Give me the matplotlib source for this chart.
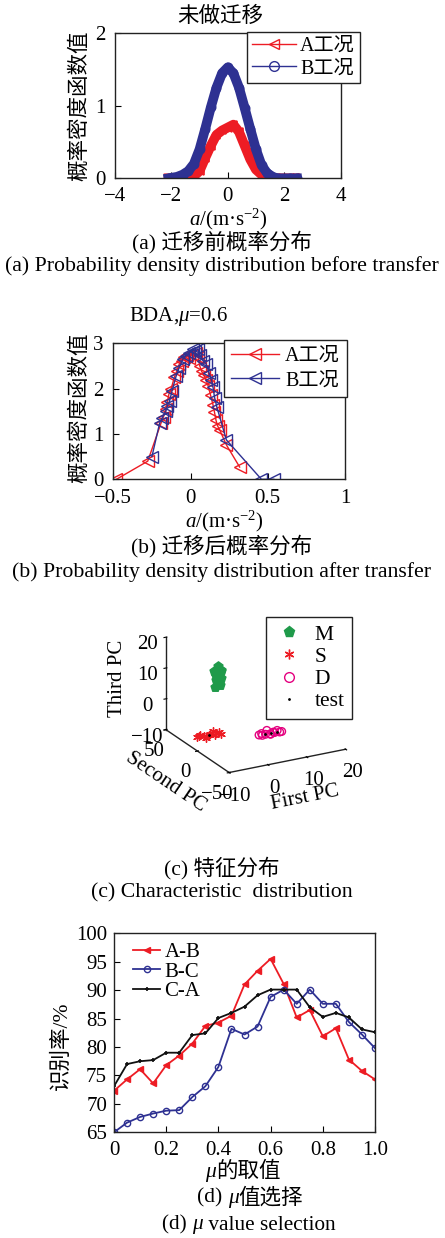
import numpy as np
import matplotlib
matplotlib.use('Agg')
import matplotlib.pyplot as plt
from matplotlib.lines import Line2D

plt.rcParams['font.family'] = ['Liberation Serif', 'Noto Sans CJK SC']
plt.rcParams['mathtext.fontset'] = 'custom'
plt.rcParams['mathtext.rm'] = 'Liberation Serif'
plt.rcParams['mathtext.it'] = 'Liberation Serif:italic'
plt.rcParams['xtick.direction'] = 'in'
plt.rcParams['ytick.direction'] = 'in'
plt.rcParams['axes.linewidth'] = 1.0

RED = '#ed1c24'
BLUE = '#2e3192'
GREEN = '#1f9a4a'
MAGENTA = '#e4007f'

# (a) before transfer
a_x_A = [-2.1, -1.6, -1.2, -1.0, -0.8, -0.6, -0.4, -0.2, 0.0, 0.2, 0.4, 0.6, 0.8, 1.0, 1.2, 1.4, 1.7, 2.2, 2.4]
a_y_A = [0.0, 0.0, 0.03, 0.1, 0.28, 0.45, 0.6, 0.66, 0.7, 0.74, 0.64, 0.45, 0.26, 0.12, 0.05, 0.02, 0.0, 0.0, 0.0]
a_x_B = [-2.1, -1.8, -1.6, -1.4, -1.2, -1.0, -0.8, -0.6, -0.4, -0.2, 0.0, 0.2, 0.4, 0.6, 0.8, 1.0, 1.2, 1.4, 1.6, 1.75, 2.2, 2.45]
a_y_B = [0.0, 0.02, 0.05, 0.1, 0.2, 0.4, 0.68, 0.98, 1.25, 1.45, 1.53, 1.45, 1.25, 0.97, 0.68, 0.4, 0.18, 0.07, 0.02, 0.0, 0.0, 0.0]

# (b) after transfer, BDA mu=0.6
b_x_A = [-0.48, -0.277, -0.19, -0.175, -0.16, -0.15, -0.14, -0.125, -0.105, -0.09, -0.072, -0.055, -0.04,
         -0.025, -0.01, 0.01, 0.035, 0.05, 0.06, 0.072, 0.085, 0.10, 0.115, 0.13, 0.145, 0.155, 0.165,
         0.175, 0.19, 0.232, 0.318]
b_y_A = [0.0, 0.40, 1.25, 1.38, 1.55, 1.7, 1.88, 2.0, 2.25, 2.38, 2.55, 2.62, 2.7, 2.74, 2.68, 2.75, 2.78,
         2.7, 2.5, 2.38, 2.3, 2.2, 2.05, 1.85, 1.65, 1.48, 1.3, 1.18, 1.08, 0.76, 0.27]
b_x_B = [-0.25, -0.2, -0.185, -0.16, -0.15, -0.136, -0.12, -0.093, -0.075, -0.05, -0.03, -0.01, 0.015,
         0.03, 0.048, 0.06, 0.08, 0.10, 0.12, 0.135, 0.145, 0.156, 0.17, 0.232, 0.459, 0.539]
b_y_B = [0.50, 1.24, 1.35, 1.5, 1.62, 1.72, 1.95, 2.28, 2.45, 2.65, 2.72, 2.78, 2.87, 2.82, 2.88, 2.75,
         2.62, 2.55, 2.35, 2.2, 2.04, 1.8, 1.6, 0.87, 0.0, 0.0]

# (c) feature distribution (first, second, third PC)
m_x = [-3.5, -2.8, -3.2, -2.5, -3.0, -3.6, -2.7, -3.1, -2.9, -3.3, -2.6, -3.4]
m_y = [12, 8, 10, 9, 11, 13, 7, 10, 9, 12, 8, 11]
m_z = [7.5, 8.5, 9.5, 10.5, 11.5, 12.5, 13.5, 14.5, 9, 11, 13, 10]
s_x = [-6, -5, -4, -3, -2, -1, 0, -4.5, -2.5, -0.5, -5.5, -1.5]
s_y = [25, 26, 24, 25, 24, 26, 25, 23, 27, 24, 26, 25]
s_z = [-10, -9.5, -10.5, -10, -9, -10, -10.5, -9.8, -10.2, -9.5, -10, -10.5]
d_x = [6.5, 7, 7.5, 8, 8.5, 9, 9.5, 10, 10.5, 11, 11.5, 12.5]
d_y = [4, 3, 5, 3, 4, 2, 4, 3, 4, 3, 2, 5]
d_z = [-9.5, -9, -10, -9.5, -8.5, -9.5, -10, -9.3, -9.7, -9, -9.5, -10]
t_x = [-3.0, -3.1, -3.0, 8.0, 9.5, 11.0]
t_y = [10, 11, 25, 4, 3, 4]
t_z = [10.5, 11.5, -10, -9.5, -9.5, -9.5]

# (d) mu selection
mu = [0, 0.05, 0.1, 0.15, 0.2, 0.25, 0.3, 0.35, 0.4, 0.45, 0.5, 0.55, 0.6, 0.65, 0.7, 0.75, 0.8, 0.85, 0.9, 0.95, 1.0]
rate_AB = [72.3, 74.3, 76.1, 73.6, 76.8, 78.5, 80.6, 83.7, 84.3, 85.5, 91.0, 93.4, 95.5, 91.1, 85.2, 86.5,
           81.9, 83.3, 77.8, 75.8, 74.3]
rate_BC = [65.0, 66.7, 67.7, 68.3, 68.8, 68.9, 71.2, 73.1, 76.5, 83.2, 82.2, 83.6, 88.8, 90.1, 87.6, 90.1,
           87.6, 87.6, 84.4, 82.2, 79.8]
rate_CA = [73.1, 77.0, 77.5, 77.7, 79.0, 79.0, 82.1, 82.4, 85.1, 86.0, 87.1, 89.1, 90.1, 90.1, 90.1, 87.0,
           85.3, 86.0, 85.2, 83.1, 82.6]

W, H = 445, 1238
fig = plt.figure(figsize=(W / 100, H / 100), dpi=100)
FS = 15      # tick / label size
CAP = 15.5   # caption size


def box(l, t, r, b):
    return [l / W, 1 - b / H, (r - l) / W, (b - t) / H]


def ftext(x, y, s, **kw):
    kw.setdefault('ha', 'center')
    kw.setdefault('va', 'center')
    return fig.text(x / W, 1 - y / H, s, **kw)


def rich_text(xc, y, parts, size):
    rend = fig.canvas.get_renderer()
    objs = [ftext(0, y, s, ha='left', fontsize=size, style=st) for s, st in parts]
    widths = [o.get_window_extent(rend).width for o in objs]
    x = xc - sum(widths) / 2
    for o, w in zip(objs, widths):
        o.set_x(x / W)
        x += w


def style_ax(ax, xpad=6, ypad=5):
    ax.tick_params(labelsize=FS, length=4, width=0.8, top=False, right=False)
    ax.tick_params(axis='x', pad=xpad)
    ax.tick_params(axis='y', pad=ypad)
    for sp in ax.spines.values():
        sp.set_color('#222222')


def leg_kw(anchor, fs):
    return dict(loc='upper right', bbox_to_anchor=anchor, bbox_transform=fig.transFigure, fontsize=fs,
                frameon=True, fancybox=False, edgecolor='#222222', framealpha=1, borderaxespad=0)


# ---------- (a)
ax = fig.add_axes(box(115, 33.3, 340.5, 178.3))
ax.plot(a_x_A, a_y_A, color=RED, lw=7, marker='<', ms=6, mfc='none', mew=1.2, solid_joinstyle='round')
ax.plot(a_x_B, a_y_B, color=BLUE, lw=7, marker='o', ms=6, mfc='none', mew=1.2, solid_joinstyle='round')
ax.set_xlim(-4, 4)
ax.set_ylim(0, 2)
ax.set_xticks([-4, -2, 0, 2, 4])
ax.set_yticks([0, 1, 2])
style_ax(ax, xpad=6, ypad=7)
hA = Line2D([], [], color=RED, lw=1, marker='<', ms=7, mfc='none')
hB = Line2D([], [], color=BLUE, lw=1, marker='o', ms=7, mfc='none')
ax.legend([hA, hB], ['A工况', 'B工况'], borderpad=0.25, handlelength=2.2, handletextpad=0.2,
          labelspacing=0.15, **leg_kw((360 / W, 1 - 32 / H), 14.5))
ftext(220, 16.7, '未做迁移', fontsize=CAP)
ftext(80, 106, '概率密度函数值', fontsize=CAP, rotation=90)
ftext(228, 219, r'$a$/(m·s$^{-2}$)', fontsize=FS)
ftext(222, 242, '(a) 迁移前概率分布', fontsize=CAP)
ftext(222, 266, '(a) Probability density distribution before transfer', fontsize=15.7)

# ---------- (b)
ax = fig.add_axes(box(113.3, 343.3, 345, 479.3))
ax.plot(b_x_A, b_y_A, color=RED, lw=1, marker='<', ms=8, mfc='none', mew=1)
ax.plot(b_x_B, b_y_B, color=BLUE, lw=1, marker='<', ms=8, mfc='none', mew=1)
ax.set_xlim(-0.5, 1)
ax.set_ylim(0, 3)
ax.set_xticks([-0.5, 0, 0.5, 1])
ax.set_xticklabels(['−0.5', '0', '0.5', '1'])
ax.set_yticks([0, 1, 2, 3])
style_ax(ax, xpad=7, ypad=7)
hA = Line2D([], [], color=RED, lw=1, marker='<', ms=8, mfc='none')
hB = Line2D([], [], color=BLUE, lw=1, marker='<', ms=8, mfc='none')
ax.legend([hA, hB], ['A工况', 'B工况'], borderpad=0.35, handlelength=2.4, handletextpad=0.3,
          labelspacing=0.25, **leg_kw((347 / W, 1 - 340 / H), 14.5))
ftext(178, 317, r'BDA,$\mu$=0.6', fontsize=FS)
ftext(80, 408, '概率密度函数值', fontsize=CAP, rotation=90)
ftext(224, 521, r'$a$/(m·s$^{-2}$)', fontsize=FS)
ftext(222, 546, '(b) 迁移后概率分布', fontsize=CAP)
ftext(222, 572, '(b) Probability density distribution after transfer', fontsize=15.7)

# ---------- (c)
ax3 = fig.add_axes([0.337, 0.3546, 0.4629, 0.1664], projection='3d')
ax3.set_proj_type('ortho')
ax3.view_init(elev=21.6, azim=-118.5)
ax3.scatter(m_x, m_y, m_z, marker='p', s=45, color=GREEN, depthshade=False)
ax3.scatter(s_x, s_y, s_z, marker=(6, 2, 0), s=30, color=RED, linewidths=1, depthshade=False)
ax3.scatter(d_x, d_y, d_z, marker='o', s=30, facecolors='none', edgecolors=MAGENTA, linewidths=1,
            depthshade=False)
ax3.scatter(t_x, t_y, t_z, marker='.', s=4, color='black', depthshade=False)
ax3.set_xlim(-10, 20)
ax3.set_ylim(-50, 50)
ax3.set_zlim(-10, 20)
ax3.set_xticks([-10, 0, 10, 20])
ax3.set_yticks([-50, 0, 50])
ax3.set_zticks([-10, 0, 10, 20])
ax3.grid(False)
for axis in (ax3.xaxis, ax3.yaxis, ax3.zaxis):
    axis.pane.fill = False
    axis.pane.set_edgecolor('none')
    axis.line.set_color('#222222')
ax3.tick_params(labelsize=FS, pad=0)
ax3.set_xlabel('First PC', fontsize=FS, labelpad=0)
ax3.set_ylabel('Second PC', fontsize=FS, labelpad=0)
ax3.set_zlabel('Third PC', fontsize=FS, labelpad=0)
hM = Line2D([], [], ls='none', marker='p', ms=8, color=GREEN)
hS = Line2D([], [], ls='none', marker=(6, 2, 0), ms=7, color=RED)
hD = Line2D([], [], ls='none', marker='o', ms=7, mfc='none', mec=MAGENTA)
hT = Line2D([], [], ls='none', marker='.', ms=2, color='black')
fig.legend([hM, hS, hD, hT], ['M', 'S', 'D', 'test'], borderpad=0.35, handlelength=1.4,
           handletextpad=0.5, labelspacing=0.1, **leg_kw((352 / W, 1 - 617 / H), 15.5))
ftext(222, 868, '(c) 特征分布', fontsize=CAP)
ftext(222, 893, '(c) Characteristic  distribution', fontsize=15.7)

# ---------- (d)
ax = fig.add_axes(box(114, 933.3, 375, 1132.3))
ax.plot(mu, rate_AB, color=RED, lw=1.3, marker='<', ms=4.5, label='A-B')
ax.plot(mu, rate_BC, color=BLUE, lw=1.3, marker='o', ms=4.5, mfc='none', mew=1, label='B-C')
ax.plot(mu, rate_CA, color='#111111', lw=1.3, marker='+', ms=3.5, mew=1.2, label='C-A')
ax.set_xlim(0, 1)
ax.set_ylim(65, 100)
ax.set_xticks([0, 0.2, 0.4, 0.6, 0.8, 1.0])
ax.set_xticklabels(['0', '0.2', '0.4', '0.6', '0.8', '1.0'])
ax.set_yticks(range(65, 101, 5))
style_ax(ax)
ax.legend(loc='upper left', bbox_to_anchor=(0.05, 0.985), fontsize=FS, frameon=False, handlelength=1.3,
          handletextpad=0.2, labelspacing=0.0, borderaxespad=0.2, borderpad=0.1)
ftext(62, 1046, '识别率/%', fontsize=CAP, rotation=90)
rich_text(243, 1172, [('μ', 'italic'), ('的取值', 'normal')], CAP)
rich_text(250, 1198, [('(d) ', 'normal'), ('μ', 'italic'), ('值选择', 'normal')], CAP)
rich_text(249, 1225, [('(d) ', 'normal'), ('μ', 'italic'), (' value selection', 'normal')], 15.3)

fig.savefig('out.png', dpi=100)
